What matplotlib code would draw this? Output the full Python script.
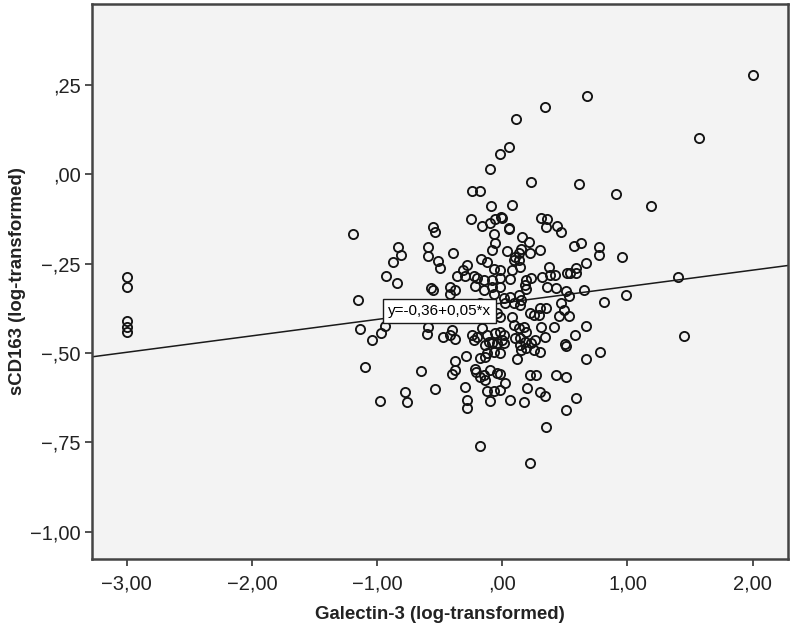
import numpy as np
import matplotlib
matplotlib.use("Agg")
import matplotlib.pyplot as plt

plt.rcParams['font.family'] = ['Liberation Sans', 'DejaVu Sans']

# Galectin-3 (log) vs sCD163 (log)
galectin = [
    -3.00, -3.00, -3.00, -3.00, -3.00,
    2.00, 0.68, 0.34, 0.11, 1.57, 0.05, -0.02, -0.10,
    -1.19, -0.55, -0.54, -0.83, -0.81, -0.87, -0.59, -0.59, -0.51, -0.50,
    -0.39, -0.93, -0.84, -1.15, -0.57, -0.55, -0.42, -0.38, -0.42, -0.36,
    -1.14, -1.04, -0.97, -0.94, -1.10, -0.65, -0.78, -0.76, -0.98, -0.54,
    -0.60, -0.59, -0.47, -0.42, -0.38, -0.40, -0.38, -0.38, -0.40,
    0.23, -0.24, -0.18, -0.09, 0.08, -0.25, -0.16, -0.10, -0.06, -0.01,
    0.00, 0.05, 0.05, 0.31, 0.36, 0.35, 0.44, 0.47, -0.07, -0.06,
    0.16, 0.21, -0.08, 0.04, 0.30, 0.15, 0.13, 0.10, 0.09, 0.13,
    0.22, 0.57, -0.17, -0.12, 0.14, 0.08, -0.02, -0.07, 0.37, 0.38,
    0.42, 0.32, 0.52, 0.54, -0.28, -0.31, -0.30, -0.23, -0.20, -0.15,
    -0.08, -0.02, 0.06, 0.19, 0.23, 0.18, 0.19, 0.36, 0.43, 0.51,
    0.53, -0.22, -0.15, -0.08, -0.07, -0.02, 0.01, 0.06, 0.09, 0.02,
    0.13, 0.15, 0.14, 0.30, 0.35, 0.22, 0.25, 0.29, 0.47, 0.49,
    0.45, 0.53, 0.08, -0.04, -0.02, -0.31, -0.26, -0.30, -0.18, -0.15,
    -0.10,
    0.61, 0.91, 1.19, 0.63, 0.77, 0.77, 0.96, 0.67, 0.59, 0.59,
    1.40, 0.65, 0.99, 0.81,
    -0.16, -0.24, -0.20, -0.23, -0.12, -0.11, -0.14, -0.08, -0.06, -0.02,
    0.01, -0.005, -0.04, 0.01, -0.07, -0.02, -0.12, -0.18, -0.14, -0.29,
    0.09, 0.13, 0.17, 0.19, 0.10, 0.14, 0.14, 0.18, 0.19, 0.15,
    0.23, 0.26, 0.25, 0.30, 0.12, 0.31, 0.34, 0.41, 0.50, 0.51,
    0.58, -0.22, -0.21, -0.18, -0.14, -0.15, -0.10, -0.04, -0.02, 0.02,
    -0.30, -0.12, -0.07, -0.02, 0.22, 0.27, 0.43, 0.51, 0.20, 0.30,
    0.34, -0.28, -0.28, -0.10, 0.06, 0.17, 0.51, 0.59, 0.35, -0.18,
    0.22,
    0.67, 0.78, 0.67, 1.45,
]
scd163 = [
    -0.287, -0.315, -0.410, -0.427, -0.440,
    0.278, 0.220, 0.189, 0.154, 0.101, 0.076, 0.056, 0.015,
    -0.167, -0.147, -0.162, -0.204, -0.227, -0.246, -0.204, -0.229, -0.242, -0.261,
    -0.219, -0.285, -0.303, -0.352, -0.319, -0.324, -0.316, -0.324, -0.335, -0.285,
    -0.434, -0.464, -0.443, -0.425, -0.538, -0.551, -0.608, -0.636, -0.634, -0.602,
    -0.447, -0.427, -0.455, -0.450, -0.462, -0.436, -0.522, -0.548, -0.560,
    -0.022, -0.047, -0.047, -0.089, -0.085, -0.126, -0.144, -0.135, -0.125, -0.119,
    -0.123, -0.149, -0.153, -0.121, -0.124, -0.148, -0.145, -0.161, -0.167, -0.191,
    -0.175, -0.189, -0.212, -0.214, -0.212, -0.210, -0.221, -0.232, -0.240, -0.240,
    -0.219, -0.201, -0.238, -0.245, -0.259, -0.268, -0.268, -0.266, -0.260, -0.282,
    -0.282, -0.287, -0.275, -0.276, -0.254, -0.268, -0.285, -0.285, -0.291, -0.296,
    -0.296, -0.291, -0.293, -0.296, -0.291, -0.310, -0.322, -0.316, -0.319, -0.326,
    -0.341, -0.313, -0.324, -0.316, -0.335, -0.315, -0.347, -0.343, -0.361, -0.361,
    -0.338, -0.352, -0.366, -0.375, -0.375, -0.389, -0.394, -0.394, -0.361, -0.380,
    -0.396, -0.396, -0.399, -0.389, -0.399, -0.380, -0.380, -0.399, -0.361, -0.375,
    -0.371,
    -0.027, -0.056, -0.088, -0.191, -0.204, -0.227, -0.231, -0.249, -0.263, -0.275,
    -0.288, -0.324, -0.338, -0.358,
    -0.431, -0.450, -0.455, -0.464, -0.450, -0.469, -0.478, -0.473, -0.445, -0.441,
    -0.450, -0.464, -0.473, -0.473, -0.497, -0.501, -0.501, -0.515, -0.511, -0.509,
    -0.422, -0.431, -0.427, -0.441, -0.459, -0.459, -0.478, -0.469, -0.487, -0.492,
    -0.473, -0.464, -0.492, -0.497, -0.517, -0.427, -0.455, -0.427, -0.476, -0.480,
    -0.450, -0.546, -0.553, -0.566, -0.576, -0.562, -0.548, -0.555, -0.559, -0.583,
    -0.594, -0.606, -0.606, -0.604, -0.562, -0.562, -0.562, -0.566, -0.599, -0.608,
    -0.621, -0.632, -0.655, -0.634, -0.632, -0.637, -0.660, -0.625, -0.706, -0.760,
    -0.809,
    -0.424, -0.497, -0.517, -0.452,
]

intercept, slope = -0.36, 0.046
fit_label = "y=-0,36+0,05*x"
x_ticks = [-3, -2, -1, 0, 1, 2]
x_ticklabels = ["\u22123,00", "\u22122,00", "\u22121,00", ",00", "1,00", "2,00"]
y_ticks = [0.25, 0.0, -0.25, -0.5, -0.75, -1.0]
y_ticklabels = [",25", ",00", "\u2212,25", "\u2212,50", "\u2212,75", "\u22121,00"]

xlim = (-3.275, 2.284)
ylim = (-1.076, 0.477)

fig = plt.figure(figsize=(7.93, 6.25), dpi=100)
ax = fig.add_axes([0.1164, 0.106, 0.994 - 0.1164, 0.9936 - 0.106])
ax.set_facecolor('#f3f3f3')

ax.plot(galectin, scd163, linestyle='none', marker='o', markersize=6.6,
        markerfacecolor='none', markeredgecolor='#141414', markeredgewidth=1.35,
        zorder=3)

xs = np.array(xlim)
ax.plot(xs, intercept + slope * xs, color='#1a1a1a', linewidth=1.1, zorder=2)

ax.text(-0.5, intercept + slope * -0.5, fit_label, fontsize=11,
        ha='center', va='center', zorder=5,
        bbox=dict(boxstyle='square,pad=0.32', facecolor='white',
                  edgecolor='#1a1a1a', linewidth=1.0))

ax.set_xlim(*xlim)
ax.set_ylim(*ylim)
ax.set_xticks(x_ticks)
ax.set_xticklabels(x_ticklabels)
ax.set_yticks(y_ticks)
ax.set_yticklabels(y_ticklabels)
ax.tick_params(axis='both', direction='out', length=5, width=1.2,
               color='#333333', labelsize=14.5, labelcolor='#222222')
ax.tick_params(axis='x', pad=6)
for s in ax.spines.values():
    s.set_linewidth(1.8)
    s.set_color('#444444')

ax.set_xlabel("Galectin-3 (log-transformed)", fontsize=13.4, fontweight='bold',
              color='#222222', labelpad=9)
ax.set_ylabel("sCD163 (log-transformed)", fontsize=13.4, fontweight='bold',
              color='#222222', labelpad=3)

fig.savefig("out.png", dpi=100, facecolor='white')
